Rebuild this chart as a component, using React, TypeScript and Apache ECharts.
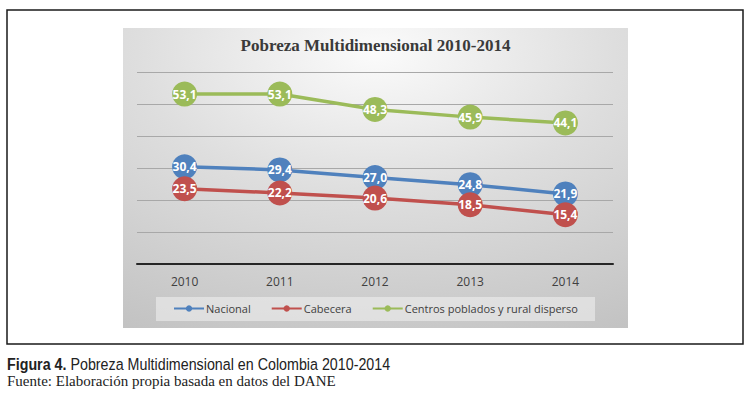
import React, { useEffect, useRef } from "react";
import * as echarts from "echarts";

const years = ["2010", "2011", "2012", "2013", "2014"];
const nacional = [30.4, 29.4, 27.0, 24.8, 21.9];
const cabecera = [23.5, 22.2, 20.6, 18.5, 15.4];
const centros = [53.1, 53.1, 48.3, 45.9, 44.1];
const seriesNames = ["Nacional", "Cabecera", "Centros poblados y rural disperso"];
const colors = ["#4f81bd", "#c0504d", "#9bbb59"];

const fmt = (v: number) => v.toFixed(1).replace(".", ",");

export default function App() {
  const ref = useRef<HTMLDivElement>(null);
  useEffect(() => {
    if (!ref.current) return;
    const chart = echarts.init(ref.current, undefined, { renderer: "svg" });
    const dataSets = [nacional, cabecera, centros];
    chart.setOption({
      animation: false,
      backgroundColor: "#ffffff",
      title: {
        text: "Pobreza Multidimensional 2010-2014",
        left: "center",
        top: 37,
        padding: 0,
        textStyle: {
          fontFamily: "'Liberation Serif', 'DejaVu Serif', serif",
          fontWeight: "bold",
          fontSize: 17,
          color: "#3a3a3a",
        },
      },
      graphic: [
        {
          type: "rect",
          z: -10,
          shape: { x: 7, y: 10, width: 736, height: 334 },
          style: { fill: "none", stroke: "#1a1a1a", lineWidth: 1.5 },
        },
        {
          type: "rect",
          z: -9,
          shape: { x: 123, y: 28, width: 505, height: 300 },
          style: {
            fill: new echarts.graphic.RadialGradient(0.5, 0.08, 1.05, [
              { offset: 0, color: "#fbfbfb" },
              { offset: 0.45, color: "#dedede" },
              { offset: 1, color: "#c2c2c2" },
            ]),
          },
        },
        {
          type: "rect",
          z: -8,
          shape: { x: 156, y: 297, width: 439, height: 24 },
          style: { fill: "rgba(238,238,238,0.6)" },
        },
        {
          type: "text",
          x: 7,
          y: 364,
          scaleX: 0.84,
          style: {
            text: "{b|Figura 4.} Pobreza Multidimensional en Colombia 2010-2014",
            fontFamily: "'Liberation Sans', Arial, sans-serif",
            fontSize: 17,
            fill: "#222222",
            verticalAlign: "middle",
            rich: {
              b: {
                fontFamily: "'Liberation Sans', Arial, sans-serif",
                fontWeight: "bold",
                fontSize: 17,
                fill: "#222222",
              },
            },
          },
        },
        {
          type: "text",
          x: 7,
          y: 381,
          style: {
            text: "Fuente: Elaboración propia basada en datos del DANE",
            fontFamily: "'Liberation Serif', 'DejaVu Serif', serif",
            fontSize: 15,
            fill: "#222222",
            verticalAlign: "middle",
          },
        },
      ],
      legend: {
        data: seriesNames,
        left: "center",
        top: 298,
        itemWidth: 30,
        itemHeight: 8,
        itemGap: 20,
        textStyle: {
          fontFamily: "'Open Sans', 'Liberation Sans', sans-serif",
          fontSize: 11,
          color: "#404040",
          padding: [0, 0, 0, -3],
        },
      },
      grid: { left: 137, right: 138, top: 72, bottom: 129, containLabel: false },
      xAxis: {
        type: "category",
        data: years,
        boundaryGap: true,
        axisLine: { lineStyle: { color: "#262626", width: 2 } },
        axisTick: { show: false },
        axisLabel: {
          margin: 11,
          fontFamily: "'Open Sans', 'Liberation Sans', sans-serif",
          fontSize: 12,
          color: "#404040",
        },
      },
      yAxis: {
        type: "value",
        min: 0,
        max: 60,
        interval: 10,
        axisLine: { show: false },
        axisTick: { show: false },
        axisLabel: { show: false },
        splitLine: { lineStyle: { color: "#a8a8a8", width: 1 } },
      },
      series: seriesNames.map((name, i) => ({
        name,
        type: "line",
        data: dataSets[i],
        symbol: "circle",
        symbolSize: 25,
        lineStyle: { color: colors[i], width: 3.5 },
        itemStyle: { color: colors[i] },
        label: {
          show: true,
          position: "inside",
          formatter: (p: any) => fmt(p.value),
          color: "#ffffff",
          fontWeight: "bold",
          fontSize: 12,
          fontFamily: "'Open Sans', 'Liberation Sans', sans-serif",
        },
        z: 3 + i,
      })),
    });
    return () => chart.dispose();
  }, []);
  return (
    <div
      ref={ref}
      style={{ position: "fixed", left: 0, top: 0, width: 751, height: 393 }}
    />
  );
}
